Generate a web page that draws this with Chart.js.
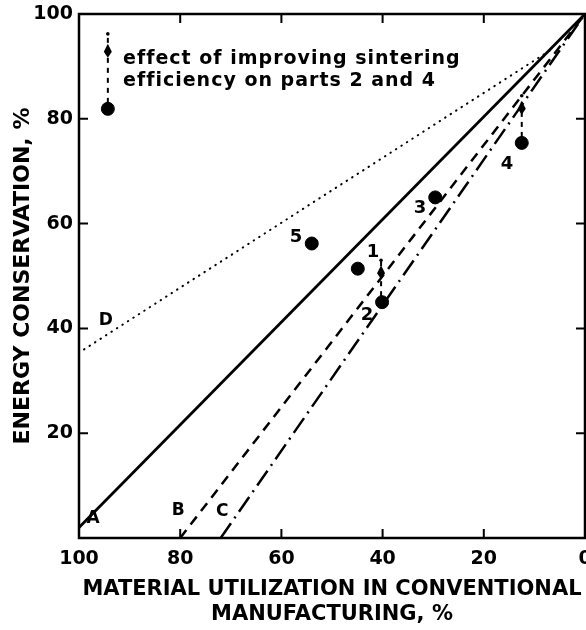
<!DOCTYPE html>
<html>
<head>
<meta charset="utf-8">
<script src="https://cdn.jsdelivr.net/npm/chart.js@4"></script>
<style>
  html, body { margin: 0; padding: 0; background: #fff; }
</style>
</head>
<body>
<canvas id="chart" width="586" height="630"></canvas>
<script>
// ==========================
// DATA
// ==========================
const xTicks = [100, 80, 60, 40, 20, 0];
const yTicks = [100, 80, 60, 40, 20];

// lines A-D (x = material utilization, y = energy conservation)
const lineAX = [100, 0];
const lineAY = [2, 100];
const lineBX = [80, 0];
const lineBY = [0, 100];
const lineCX = [72, 0];
const lineCY = [0, 100];
const lineDX = [99, 7];
const lineDY = [36, 93];

const lineNames = ["A", "B", "C", "D"];
const lineNameX = [97.2, 80.4, 71.7, 94.7];
const lineNameY = [3.8, 5.3, 5.1, 41.5];

// parts 1..5
const partNames = ["1", "2", "3", "4", "5"];
const partX = [44.9, 40.1, 29.6, 12.5, 54];
const partY = [51.4, 45, 65, 75.4, 56.2];
const partLabelX = [41.9, 43.1, 32.6, 15.4, 57.1];
const partLabelY = [54.5, 42.5, 62.9, 71.4, 57.3];

// sintering-efficiency arrows (legend sample, part 2, part 4)
const arrowX = [94.3, 40.3, 12.5];
const arrowBaseY = [81.9, 45, 75.4];
const arrowHeadY = [93, 50.7, 82.1];
const arrowTopY = [96.2, 53, 84.4];

const noteLines = ["effect of improving sintering", "efficiency on parts 2 and 4"];

const toPts = (xs, ys) => xs.map((x, i) => ({ x, y: ys[i] }));

// ==========================
// PLUGIN: frame, inside ticks, arrows, texts
// ==========================
const decorPlugin = {
  id: "decor",
  afterDatasetsDraw(chart) {
    const { ctx, chartArea: a, scales: { x, y } } = chart;
    ctx.save();
    ctx.strokeStyle = "#000";
    ctx.fillStyle = "#000";

    // frame
    ctx.lineWidth = 2.5;
    ctx.strokeRect(a.left, a.top, a.right - a.left, a.bottom - a.top);

    // inside tick marks
    const tl = 9;
    ctx.lineWidth = 2;
    ctx.beginPath();
    xTicks.forEach(v => {
      if (v === 0 || v === 100) return;
      const px = x.getPixelForValue(v);
      ctx.moveTo(px, a.bottom); ctx.lineTo(px, a.bottom - tl);
      ctx.moveTo(px, a.top); ctx.lineTo(px, a.top + tl);
    });
    yTicks.forEach(v => {
      if (v === 100) return;
      const py = y.getPixelForValue(v);
      ctx.moveTo(a.left, py); ctx.lineTo(a.left + tl, py);
      ctx.moveTo(a.right, py); ctx.lineTo(a.right - tl, py);
    });
    ctx.stroke();

    // arrows
    arrowX.forEach((v, i) => {
      const px = x.getPixelForValue(v);
      const pb = y.getPixelForValue(arrowBaseY[i]);
      const ph = y.getPixelForValue(arrowHeadY[i]);
      const pt = y.getPixelForValue(arrowTopY[i]);
      ctx.lineWidth = 2;
      ctx.setLineDash([5, 5]);
      ctx.beginPath();
      ctx.moveTo(px, pb - 6);
      ctx.lineTo(px, pt);
      ctx.stroke();
      ctx.setLineDash([]);
      // head
      ctx.beginPath();
      ctx.moveTo(px, ph - 7);
      ctx.lineTo(px + 4, ph + 1);
      ctx.lineTo(px, ph + 7);
      ctx.lineTo(px - 4, ph + 1);
      ctx.closePath();
      ctx.fill();
      // small dot at top
      ctx.beginPath();
      ctx.arc(px, pt, 1.8, 0, Math.PI * 2);
      ctx.fill();
    });

    // texts
    ctx.textAlign = "center";
    ctx.textBaseline = "middle";
    ctx.font = "bold 17px 'DejaVu Sans'";
    lineNames.forEach((t, i) => {
      ctx.fillText(t, x.getPixelForValue(lineNameX[i]), y.getPixelForValue(lineNameY[i]));
    });
    ctx.font = "bold 18px 'DejaVu Sans'";
    partNames.forEach((t, i) => {
      ctx.fillText(t, x.getPixelForValue(partLabelX[i]), y.getPixelForValue(partLabelY[i]));
    });

    ctx.textAlign = "left";
    ctx.font = "bold 19px 'DejaVu Sans'";
    ctx.letterSpacing = "1px";
    const nx = x.getPixelForValue(91.3);
    ctx.fillText(noteLines[0], nx, y.getPixelForValue(91.4));
    ctx.fillText(noteLines[1], nx, y.getPixelForValue(87.2));
    ctx.restore();
  }
};

// ==========================
// CHART
// ==========================
const lineStyle = { showLine: true, borderColor: "#000", pointRadius: 0, fill: false };

new Chart(document.getElementById("chart").getContext("2d"), {
  type: "scatter",
  data: {
    datasets: [
      { ...lineStyle, label: "A", data: toPts(lineAX, lineAY), borderWidth: 2.8 },
      { ...lineStyle, label: "B", data: toPts(lineBX, lineBY), borderWidth: 2.5, borderDash: [10, 7] },
      { ...lineStyle, label: "C", data: toPts(lineCX, lineCY), borderWidth: 2.5, borderDash: [18, 6, 2, 6] },
      { ...lineStyle, label: "D", data: toPts(lineDX, lineDY), borderWidth: 2, borderDash: [0.5, 6], borderCapStyle: "round" },
      { label: "parts", data: toPts(partX, partY), pointRadius: 6.5, backgroundColor: "#000", borderColor: "#000" },
      { label: "sample", data: toPts([arrowX[0]], [arrowBaseY[0]]), pointRadius: 6.5, backgroundColor: "#000", borderColor: "#000" }
    ]
  },
  options: {
    responsive: false,
    animation: false,
    layout: { autoPadding: false, padding: { top: 14, right: 1, left: 0, bottom: 0 } },
    plugins: { legend: { display: false }, tooltip: { enabled: false } },
    scales: {
      x: {
        type: "linear",
        min: 0, max: 100, reverse: true,
        afterBuildTicks: s => { s.ticks = xTicks.map(v => ({ value: v })); },
        afterFit: s => { s.height = 92; s.paddingLeft = 0; s.paddingRight = 0; },
        grid: { display: false, drawTicks: false },
        border: { display: false },
        ticks: { color: "#000", padding: 10, maxRotation: 0, font: { family: "DejaVu Sans", weight: "bold", size: 19 } },
        title: {
          display: true,
          text: ["MATERIAL UTILIZATION IN CONVENTIONAL", "MANUFACTURING, %"],
          color: "#000",
          padding: { top: 0, bottom: 3 },
          font: { family: "DejaVu Sans", weight: "bold", size: 21, lineHeight: 1.2 }
        }
      },
      y: {
        type: "linear",
        min: 0, max: 100,
        afterBuildTicks: s => { s.ticks = yTicks.map(v => ({ value: v })); },
        afterFit: s => { s.width = 79; s.paddingTop = 0; s.paddingBottom = 0; },
        grid: { display: false, drawTicks: false },
        border: { display: false },
        ticks: { color: "#000", padding: 6, font: { family: "DejaVu Sans", weight: "bold", size: 19 } },
        title: {
          display: true,
          text: "ENERGY CONSERVATION, %",
          color: "#000",
          padding: { top: 10, bottom: 0 },
          font: { family: "DejaVu Sans", weight: "bold", size: 22, lineHeight: 1.2 }
        }
      }
    }
  },
  plugins: [decorPlugin]
});
</script>
</body>
</html>
